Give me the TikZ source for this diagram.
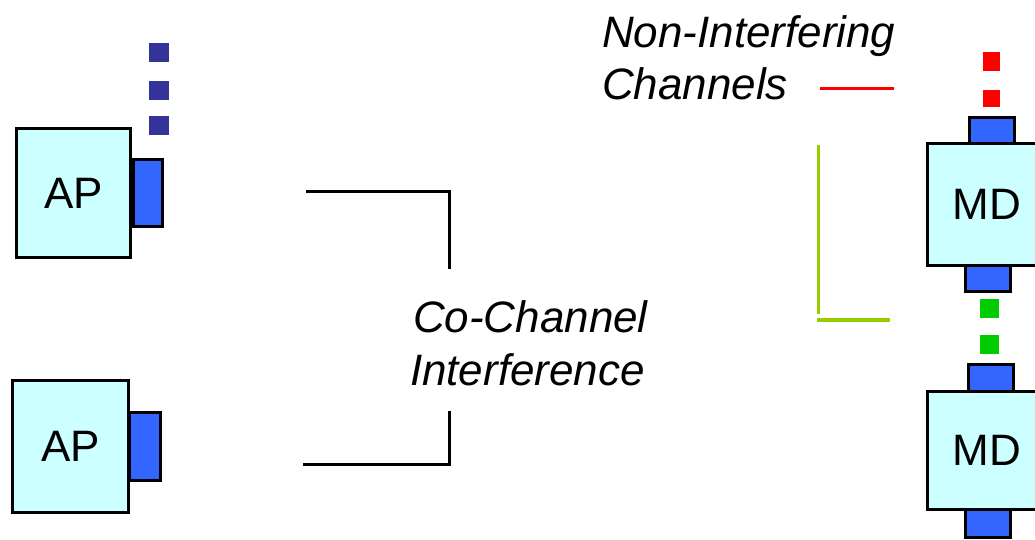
\documentclass[tikz,border=0pt]{standalone}
\usepackage{fontspec}
\setmainfont{Liberation Sans}
\definecolor{boxfill}{HTML}{CCFFFF}
\definecolor{portblue}{HTML}{3366FF}
\definecolor{navysq}{HTML}{333399}
\definecolor{redsq}{HTML}{FF0000}
\definecolor{greensq}{HTML}{00CC00}
\definecolor{olive}{HTML}{99CC00}
\tikzset{
  devbox/.style={draw=black, line width=3pt, fill=boxfill, inner sep=0pt, outer sep=0pt,
    font=\fontsize{44}{44}\selectfont},
  port/.style={draw=black, line width=3pt, fill=portblue, inner sep=0pt, outer sep=0pt},
  sq/.style={inner sep=0pt, outer sep=0pt, minimum width=19pt, minimum height=19pt},
  lbl/.style={inner sep=0pt, outer sep=0pt, anchor=base west, font=\fontsize{44}{44}\selectfont\itshape},
  bracket/.style={draw=black, line width=3pt},
}
\begin{document}
\begin{tikzpicture}[x=1pt,y=-1pt]
\useasboundingbox (0,0) rectangle (1035,540);
\clip (0,0) rectangle (1035,540);
% AP 1
\node[port, minimum width=29pt, minimum height=67pt] (ap1port) at (148,193) {};
\node[devbox, minimum width=114pt, minimum height=129pt] (ap1) at (73.5,193) {AP};
\node[sq, fill=navysq, minimum width=20pt] (n1) at (159,52.5) {};
\node[sq, fill=navysq, minimum width=20pt] (n2) at (159,90.5) {};
\node[sq, fill=navysq, minimum width=20pt] (n3) at (159,125.5) {};
% AP 2
\node[port, minimum width=31pt, minimum height=68pt] (ap2port) at (145,446.5) {};
\node[devbox, minimum width=116pt, minimum height=132pt] (ap2) at (70.5,446.5) {AP};
% MD 1
\node[port, minimum width=45pt, minimum height=27pt] (md1top) at (991.5,131) {};
\node[port, minimum width=45pt, minimum height=26pt] (md1bot) at (988,278.5) {};
\node[devbox, minimum width=119pt, minimum height=122pt] (md1) at (987,204.5) {MD};
% MD 2
\node[port, minimum width=45pt, minimum height=27pt] (md2top) at (991,378) {};
\node[port, minimum width=45pt, minimum height=28pt] (md2bot) at (988,523.5) {};
\node[devbox, minimum width=119pt, minimum height=118pt] (md2) at (987,450.5) {MD};
% red squares
\node[sq, fill=redsq, minimum width=17pt] (r1) at (991,61.5) {};
\node[sq, fill=redsq, minimum width=17pt, minimum height=17pt] (r2) at (991,99) {};
% green squares
\node[sq, fill=greensq] (g1) at (989.5,308.5) {};
\node[sq, fill=greensq] (g2) at (989.5,344) {};
% labels
\node[lbl] (nonint) at (602,48) {Non-Interfering};
\node[lbl] (chan) at (602,100) {Channels};
\node[lbl] (cochan) at (413,332) {Co-Channel};
\node[lbl] (interf) at (410,385) {Interference};
% legend lines
\coordinate (redA) at (820,88.5);
\coordinate (redB) at (894,88.5);
\draw[redsq, line width=3pt] (redA) -- (redB);
\coordinate (grA) at (818.5,145);
\coordinate (grB) at (818.5,314);
\coordinate (grC) at (817,320);
\coordinate (grD) at (890,320);
\draw[olive, line width=3pt] (grA) -- (grB);
\draw[olive, line width=3.5pt] (grC) -- (grD);
% brackets
\coordinate (t1) at (306,191.5);
\coordinate (t2) at (449.5,191.5);
\coordinate (t3) at (449.5,269);
\draw[bracket] (t1) -- (t2) -- (t3);
\coordinate (b1) at (449.5,411);
\coordinate (b2) at (449.5,464);
\coordinate (b3) at (303,464);
\draw[bracket] (b1) -- (b2) -- (b3);
\end{tikzpicture}
\end{document}
